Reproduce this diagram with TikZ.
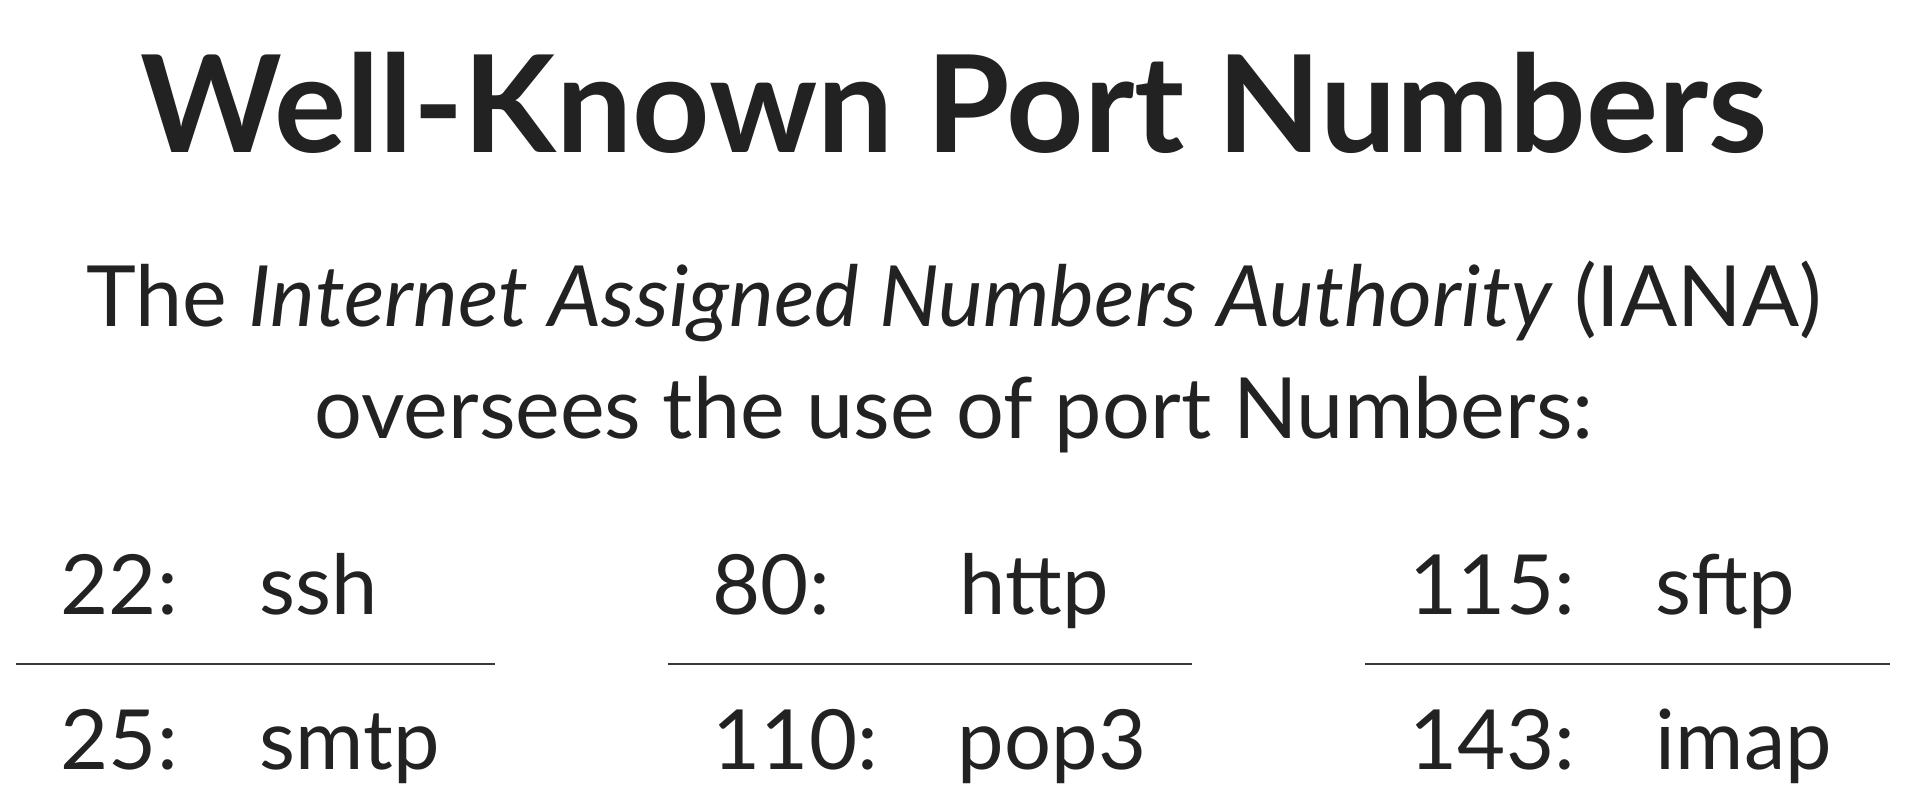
\documentclass[tikz,border=0pt]{standalone}
\usepackage{fontspec}
\setmainfont{Lato}
\usepackage{xcolor}
\usepackage{tikz}
\definecolor{ink}{HTML}{222222}

\begin{document}
\begin{tikzpicture}[x=1pt, y=-1pt, line width=1.6pt,
    every node/.style={inner sep=0, text=ink},
    heading/.style={anchor=base, font=\fontsize{135}{145}\selectfont\bfseries},
    intro/.style={anchor=base, font=\fontsize{84.5}{95}\selectfont},
    entry/.style={anchor=base west, font=\fontsize{83}{93}\selectfont},
    rule/.style={draw=ink!90}]
    \useasboundingbox (0,0) rectangle (1908,808);
    \node[heading] (title) at (954,152) {Well-Known Port Numbers};
    \node[intro] (intro1) at (954,326) {The \textit{Internet Assigned Numbers Authority} (IANA)};
    \node[intro] (intro2) at (954,438) {oversees the use of port Numbers:};
    \node[entry] (n22) at (60,614) {22:};
    \node[entry] (ssh) at (259,614) {ssh};
    \node[entry] (n25) at (60,769) {25:};
    \node[entry] (smtp) at (259,769) {smtp};
    \node[entry] (n80) at (712,614) {80:};
    \node[entry] (http) at (959,614) {http};
    \node[entry] (n110) at (712,769) {110:};
    \node[entry] (pop) at (957,769) {pop3};
    \node[entry] (n115) at (1409,614) {115:};
    \node[entry] (sftp) at (1655,614) {sftp};
    \node[entry] (n143) at (1409,769) {143:};
    \node[entry] (imap) at (1655,769) {imap};
    \coordinate (a1) at (16,664);
    \coordinate (a2) at (495,664);
    \coordinate (b1) at (668,664);
    \coordinate (b2) at (1192,664);
    \coordinate (c1) at (1365,664);
    \coordinate (c2) at (1890,664);
    \draw[rule] (a1) -- (a2);
    \draw[rule] (b1) -- (b2);
    \draw[rule] (c1) -- (c2);
\end{tikzpicture}
\end{document}
